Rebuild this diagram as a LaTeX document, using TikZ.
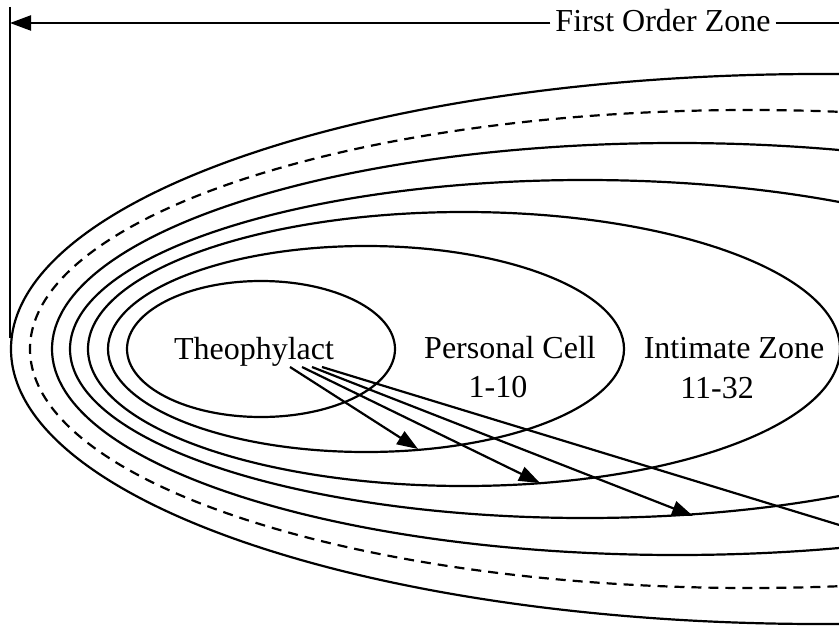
\documentclass[tikz,border=0pt]{standalone}
\usepackage{fontspec}
\setmainfont{Liberation Serif}
\usetikzlibrary{arrows.meta}
\tikzset{zones/.style={x=0.5pt,y=-0.5pt,line width=1.1pt,font=\fontsize{16}{19}\selectfont},
  pointer/.style={-{Triangle[length=10.5pt,width=7.5pt]}}}

\begin{document}
\begin{tikzpicture}[zones]
    \useasboundingbox (0,0) rectangle (839,626);
    \clip (0,0) rectangle (839,626);
    \def\cy{349}
    \foreach \cx/\a/\b in {261/134/68,366/258/103,464/376/137,585/515/169,677/625/206,820/809/275}
      \draw (\cx,\cy) ellipse [x radius=\a, y radius=\b];
    \draw[dash pattern=on 5pt off 3.5pt] (750,\cy) ellipse [x radius=720, y radius=239]; % dashed ring
    \node[anchor=base] (theo) at (254,359) {Theophylact};
    \node[anchor=base] (cell) at (510,358) {Personal Cell};
    \node[anchor=base] (cellnum) at (498,397) {1-10};
    \node[anchor=base] (intim) at (734,358) {Intimate Zone};
    \node[anchor=base] (intimnum) at (717,398) {11-32};
    \node[anchor=base,inner sep=2pt] (first) at (663,32) {First Order Zone};
    \coordinate (top) at (10,7);
    \coordinate (foot) at (10,338);
    \coordinate (edge) at (10,23);
    \coordinate (rim) at (839,23);
    \draw (top) -- (foot);
    \draw[pointer] (first.west |- edge) -- (edge);
    \draw (first.east |- rim) -- (rim);
    \foreach \i/\sx/\tx/\ty in {1/290/418/449,2/302/540/483,3/312/693/516,4/322/895/542} {
      \coordinate (s\i) at (\sx,367);
      \coordinate (t\i) at (\tx,\ty);
      \draw[pointer] (s\i) -- (t\i);
    }
\end{tikzpicture}
\end{document}
